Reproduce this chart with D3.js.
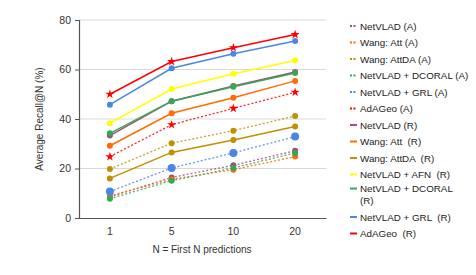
<!DOCTYPE html>
<html><head><meta charset="utf-8">
<script src="https://cdn.jsdelivr.net/npm/d3@7"></script>
<style>
body{margin:0;background:#fff;}
text{font-family:"Liberation Sans",Arial,sans-serif;}
</style></head>
<body><svg id="c" width="476" height="275"></svg>
<script>
const categories = ["1","5","10","20"];
const yTicks = [0,20,40,60,80];
const seriesNames = ["NetVLAD (A)","Wang: Att (A)","Wang: AttDA (A)","NetVLAD + DCORAL (A)","NetVLAD + GRL (A)","AdAGeo (A)",
  "NetVLAD (R)","Wang: Att  (R)","Wang: AttDA  (R)","NetVLAD + AFN  (R)","NetVLAD + DCORAL (R)","NetVLAD + GRL  (R)","AdAGeo  (R)"];
const netvladA = [8.5,16.4,21.3,27.2];
const wangAttA = [9.0,15.6,19.5,24.8];
const wangAttDAA = [19.8,30.2,35.3,41.2];
const dcoralA = [7.8,15.1,20.2,26.3];
const grlA = [10.7,20.2,26.3,32.9];
const adageoA = [24.8,37.7,44.3,50.8];
const netvladR = [33.3,47.2,53.3,59.0];
const wangAttR = [29.2,42.3,48.6,55.4];
const wangAttDAR = [16.0,26.5,31.5,37.0];
const afnR = [38.3,52.1,58.3,63.6];
const dcoralR = [34.2,47.2,53.0,58.6];
const grlR = [45.8,60.5,66.4,71.5];
const adageoR = [50.0,63.2,68.8,74.1];

const seriesValues = [netvladA,wangAttA,wangAttDAA,dcoralA,grlA,adageoA,netvladR,wangAttR,wangAttDAR,afnR,dcoralR,grlR,adageoR];
const colors = ["#a64d79","#ff6d01","#bf9000","#34a853","#4a86e8","#ff0000","#a64d79","#ff6d01","#bf9000","#ffff00","#34a853","#4a86e8","#ff0000"];
const dashed = [true,true,true,true,true,true,false,false,false,false,false,false,false];
const markers = ["circle","circle","circle","circle","bigcircle","star","circle","circle","circle","circle","circle","circle","star"];

const svg = d3.select("#c");
const x = d3.scaleBand().domain(categories).range([79,326]);
const y = d3.scaleLinear().domain([0,80]).range([218,20]);

// gridlines
svg.append("g").selectAll("line").data(yTicks.filter(d=>d>0)).join("line")
  .attr("x1",79).attr("x2",326).attr("y1",d=>y(d)).attr("y2",d=>y(d))
  .attr("stroke","#d9d9d9").attr("stroke-width",1);

// y axis
const ya = svg.append("g").attr("transform","translate(79,0)")
  .call(d3.axisLeft(y).tickValues(yTicks).tickSize(4).tickPadding(4));
ya.select(".domain").attr("stroke","#555").attr("stroke-width",1.2);
ya.selectAll(".tick line").attr("stroke","#555");
ya.selectAll("text").attr("font-size",10.5).attr("fill","#333");

// x axis
const xa = svg.append("g").attr("transform","translate(0,218)")
  .call(d3.axisBottom(x).tickSize(0).tickPadding(10));
xa.select(".domain").attr("stroke","#555").attr("stroke-width",1.2);
xa.selectAll("text").attr("font-size",10.5).attr("fill","#333");

svg.append("text").attr("x",202).attr("y",253).attr("text-anchor","middle")
  .attr("font-size",10).attr("fill","#333").text("N = First N predictions");
svg.append("text").attr("transform","translate(43,119) rotate(-90)").attr("text-anchor","middle")
  .attr("font-size",10).attr("fill","#333").text("Average Recall@N (%)");

const line = d3.line().x((d,i)=>x(categories[i])+x.bandwidth()/2).y(d=>y(d));
const star = d3.symbol().type(d3.symbolStar).size(26);

seriesValues.forEach((vals,k)=>{
  const g = svg.append("g");
  g.append("path").datum(vals).attr("d",line).attr("fill","none")
    .attr("stroke",colors[k]).attr("stroke-width",dashed[k]?1.3:1.5)
    .attr("stroke-dasharray",dashed[k]?"2,2":null)
    .attr("opacity",dashed[k]?0.85:1);
  const pts = g.selectAll(".p").data(vals).join("g")
    .attr("transform",(d,i)=>`translate(${x(categories[i])+x.bandwidth()/2},${y(d)})`);
  if(markers[k]==="star"){
    pts.append("path").attr("d",star).attr("fill",colors[k]);
  } else {
    pts.append("circle").attr("r",markers[k]==="bigcircle"?4:3).attr("fill",colors[k]);
  }
});

// legend
const legendY = [26,42.5,59,75.5,92,108.5,125,141.5,158,174.5,188.5,217,233.5];
const lg = svg.append("g");
seriesNames.forEach((n,k)=>{
  const yy = legendY[k];
  lg.append("line").attr("x1",350).attr("x2",357).attr("y1",yy).attr("y2",yy)
    .attr("stroke",colors[k]).attr("stroke-width",2)
    .attr("stroke-dasharray",dashed[k]?"2,1.5":null);
  const t = lg.append("text").attr("x",360).attr("y",yy+3.6).attr("font-size",9.8)
    .attr("fill","#222").style("white-space","pre");
  if(n==="NetVLAD + DCORAL (R)"){
    t.text("NetVLAD + DCORAL");
    lg.append("text").attr("x",360).attr("y",yy+12+3.6).attr("font-size",9.8).attr("fill","#222").text("(R)");
  } else t.text(n);
});
</script></body></html>
